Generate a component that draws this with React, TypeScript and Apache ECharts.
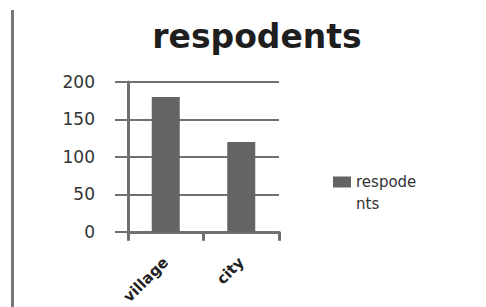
import React, { useEffect, useRef } from "react";
import * as echarts from "echarts";

const categories = ["village", "city"];
const seriesName = "respodents";
const values = [180, 120];
const titleText = "respodents";

export default function App() {
  const ref = useRef<HTMLDivElement>(null);
  useEffect(() => {
    const chart = echarts.init(ref.current!, null, { renderer: "svg" });
    chart.setOption({
      animation: false,
      backgroundColor: "#ffffff",
      title: {
        text: titleText,
        left: 252,
        top: 15,
        textAlign: "center",
        textStyle: { fontFamily: "DejaVu Sans", fontWeight: "bold", fontSize: 33, color: "#1e1e1e" },
      },
      graphic: [
        { type: "rect", shape: { x: 11, y: 10, width: 3, height: 297 }, style: { fill: "#777777" } },
      ],
      grid: { left: 128, right: 207, top: 82, bottom: 73 },
      legend: {
        orient: "vertical",
        left: 328,
        top: 166,
        itemWidth: 18,
        itemHeight: 33,
        itemGap: 4,
        icon: "path://M0,0L18,0L18,11L0,11Z M0,33L0.01,33",
        textStyle: { fontFamily: "DejaVu Sans", fontSize: 15, color: "#333", width: 70, overflow: "breakAll", lineHeight: 22 },
        data: [seriesName],
      },
      xAxis: {
        type: "category",
        data: categories,
        boundaryGap: true,
        axisLine: { show: true, lineStyle: { color: "#707070", width: 3 } },
        axisTick: { show: true, length: 9, lineStyle: { color: "#707070", width: 3 } },
        axisLabel: { rotate: 45, margin: 28, fontFamily: "DejaVu Sans", fontWeight: "bold", fontSize: 15, color: "#222" },
      },
      yAxis: {
        type: "value",
        min: 0,
        max: 200,
        interval: 50,
        axisLine: { show: true, lineStyle: { color: "#707070", width: 3 } },
        axisTick: { show: true, length: 13, lineStyle: { color: "#707070", width: 2 } },
        splitLine: { show: true, lineStyle: { color: "#707070", width: 2 } },
        axisLabel: { margin: 33, fontFamily: "DejaVu Sans", fontSize: 17, color: "#333" },
      },
      series: [
        {
          name: seriesName,
          type: "bar",
          data: values,
          barWidth: 28,
          itemStyle: { color: "#646466" },
        },
      ],
    });
    return () => chart.dispose();
  }, []);
  return <div ref={ref} style={{ width: 486, height: 307, position: "absolute", left: 0, top: 0 }} />;
}
